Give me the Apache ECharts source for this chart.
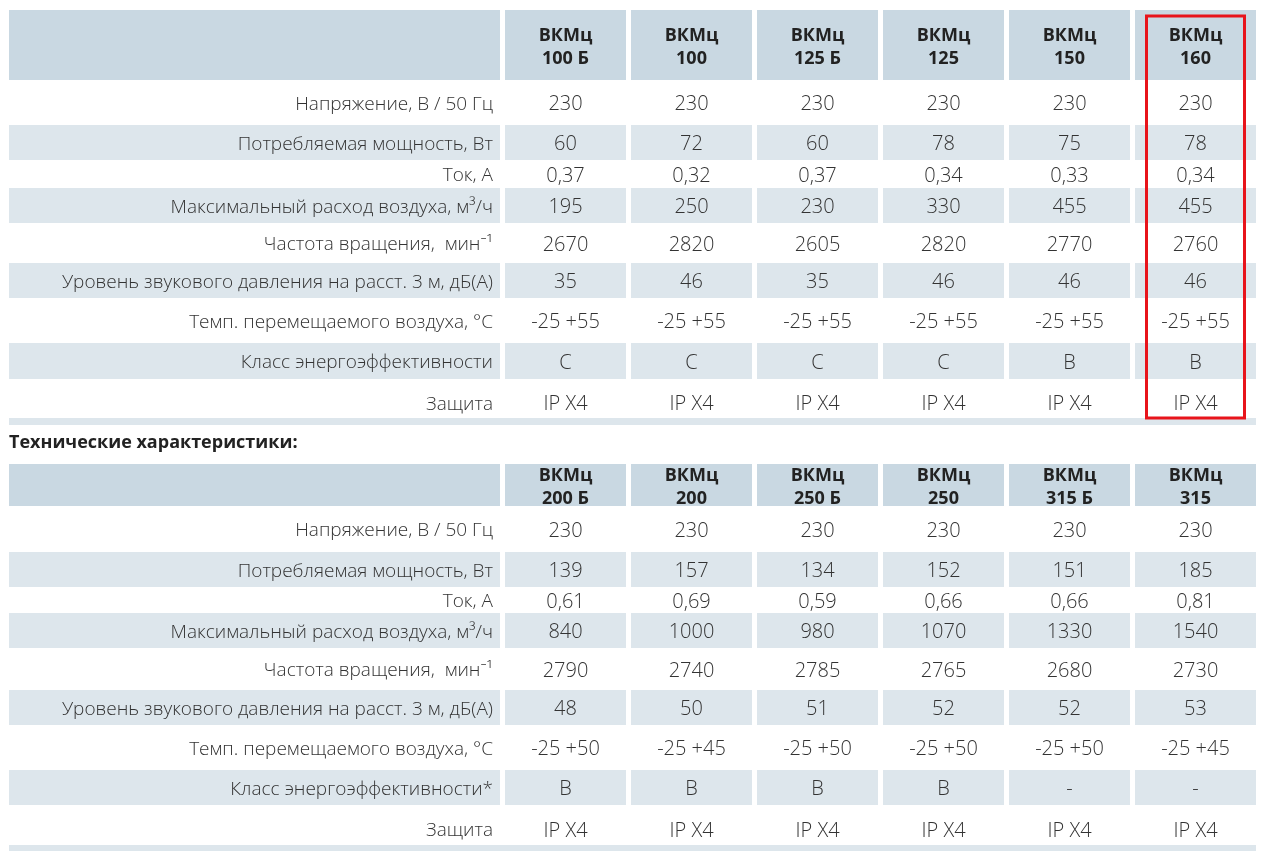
<!DOCTYPE html>
<html><head><meta charset="utf-8">
<script src="https://cdn.jsdelivr.net/npm/echarts@6/dist/echarts.min.js"></script>
<style>html,body{margin:0;padding:0;background:#fff}#c{width:1275px;height:859px}</style>
</head><body><div id="c"></div><script>
// ---------- DATA ----------
const models1 = ['ВКМц\n100 Б', 'ВКМц\n100', 'ВКМц\n125 Б', 'ВКМц\n125', 'ВКМц\n150', 'ВКМц\n160'];
const models2 = ['ВКМц\n200 Б', 'ВКМц\n200', 'ВКМц\n250 Б', 'ВКМц\n250', 'ВКМц\n315 Б', 'ВКМц\n315'];
const rowLabels1 = ['Напряжение, В / 50 Гц', 'Потребляемая мощность, Вт', 'Ток, А',
  'Максимальный расход воздуха, м³/ч', 'Частота вращения,  мин⁻¹',
  'Уровень звукового давления на расст. 3 м, дБ(А)', 'Темп. перемещаемого воздуха, °C',
  'Класс энергоэффективности', 'Защита'];
const rowLabels2 = ['Напряжение, В / 50 Гц', 'Потребляемая мощность, Вт', 'Ток, А',
  'Максимальный расход воздуха, м³/ч', 'Частота вращения,  мин⁻¹',
  'Уровень звукового давления на расст. 3 м, дБ(А)', 'Темп. перемещаемого воздуха, °C',
  'Класс энергоэффективности*', 'Защита'];
const voltage1 = ['230', '230', '230', '230', '230', '230'];
const power1 = ['60', '72', '60', '78', '75', '78'];
const current1 = ['0,37', '0,32', '0,37', '0,34', '0,33', '0,34'];
const airflow1 = ['195', '250', '230', '330', '455', '455'];
const rpm1 = ['2670', '2820', '2605', '2820', '2770', '2760'];
const noise1 = ['35', '46', '35', '46', '46', '46'];
const temp1 = ['-25 +55', '-25 +55', '-25 +55', '-25 +55', '-25 +55', '-25 +55'];
const energy1 = ['C', 'C', 'C', 'C', 'B', 'B'];
const protection1 = ['IP X4', 'IP X4', 'IP X4', 'IP X4', 'IP X4', 'IP X4'];
const voltage2 = ['230', '230', '230', '230', '230', '230'];
const power2 = ['139', '157', '134', '152', '151', '185'];
const current2 = ['0,61', '0,69', '0,59', '0,66', '0,66', '0,81'];
const airflow2 = ['840', '1000', '980', '1070', '1330', '1540'];
const rpm2 = ['2790', '2740', '2785', '2765', '2680', '2730'];
const noise2 = ['48', '50', '51', '52', '52', '53'];
const temp2 = ['-25 +50', '-25 +45', '-25 +50', '-25 +50', '-25 +50', '-25 +45'];
const energy2 = ['B', 'B', 'B', 'B', '-', '-'];
const protection2 = ['IP X4', 'IP X4', 'IP X4', 'IP X4', 'IP X4', 'IP X4'];
const highlightModel1 = 'ВКМц\n160';
const sectionTitle = 'Технические характеристики:';

// ---------- LAYOUT / STYLE ----------
const L = {
  t1: { top: 10, header: 70, rows: [45, 35, 28, 35, 40, 35, 45, 36, 39], strip: 7 },
  t2: { top: 464, header: 42, rows: [46, 35, 26, 35, 42, 35, 45, 35, 40], strip: 6 },
  labelLeft: 9, labelWidth: 496, dataLeft: 505, dataWidth: 756, gap: 5,
  textShift: 2, lastRowShift: 4, headerShift: 2
};
const HEADER_BG = '#c9d8e2', ROW_BG = '#dde6ec', STRIP_BG = '#dde6ec';
const FONT = '"Open Sans", "Noto Sans", sans-serif';
const TXT = '#333333';

const option = { animation: false, backgroundColor: '#fff', grid: [], xAxis: [], yAxis: [], series: [],
  title: { text: sectionTitle, left: 9, top: 434, padding: 0,
    textStyle: { fontFamily: FONT, fontWeight: 'bold', fontSize: 18, color: '#222' } } };

function addTable(t, models, labels, rowsData, highlight) {
  const total = t.header + t.rows.reduce((a, b) => a + b, 0) + t.strip;
  const gLabel = option.grid.length, gData = gLabel + 1;
  option.grid.push({ left: L.labelLeft, width: L.labelWidth, top: t.top, height: total });
  option.grid.push({ left: L.dataLeft, width: L.dataWidth, top: t.top, height: total });
  option.xAxis.push({ type: 'category', gridIndex: gLabel, data: ['label'], show: false });
  option.xAxis.push({ type: 'category', gridIndex: gData, data: models, show: false });
  option.yAxis.push({ type: 'value', gridIndex: gLabel, min: 0, max: total, inverse: true, show: false });
  option.yAxis.push({ type: 'value', gridIndex: gData, min: 0, max: total, inverse: true, show: false });

  const spans = [{ y0: 0, y1: t.header, kind: 0, r: -1 }];
  let y = t.header;
  t.rows.forEach((h, r) => { spans.push({ y0: y, y1: y + h, kind: r % 2 === 1 ? 1 : 2, r }); y += h; });
  spans.push({ y0: y, y1: y + t.strip, kind: 3, r: -2 });
  const nRows = t.rows.length;

  const labelItems = spans.map(s => [0, s.y0, s.y1, s.kind, s.r]);
  const dataItems = [];
  spans.forEach(s => models.forEach((m, c) => dataItems.push([c, s.y0, s.y1, s.kind, s.r])));

  function render(isLabel) {
    return function (params, api) {
      const col = api.value(0), y0 = api.value(1), y1 = api.value(2), kind = api.value(3), r = api.value(4);
      const bw = api.size([1, 0])[0];
      const p0 = api.coord([col, y0]), p1 = api.coord([col, y1]);
      const x = p0[0] - bw / 2;
      const last = !isLabel && col === models.length - 1;
      const w = kind === 3 && !last ? bw : bw - L.gap;
      const children = [];
      const fill = kind === 0 ? HEADER_BG : kind === 1 ? ROW_BG : kind === 3 ? STRIP_BG : null;
      if (fill) children.push({ type: 'rect', shape: { x: x, y: p0[1], width: w, height: p1[1] - p0[1] }, style: { fill: fill } });
      let cy = (p0[1] + p1[1]) / 2 + L.textShift + (r === nRows - 1 ? L.lastRowShift : 0);
      if (isLabel && r >= 0) {
        children.push({ type: 'text', style: { text: labels[r], x: x + w - 7, y: cy, align: 'right', verticalAlign: 'middle',
          fill: TXT, fontFamily: FONT, fontWeight: 300, fontSize: 19 } });
      } else if (!isLabel && kind === 0) {
        children.push({ type: 'text', style: { text: models[col], x: x + w / 2, y: (p0[1] + p1[1]) / 2 + L.headerShift,
          align: 'center', verticalAlign: 'middle',
          fill: '#222', fontFamily: FONT, fontWeight: 'bold', fontSize: 18, lineHeight: 23 } });
      } else if (!isLabel && r >= 0) {
        children.push({ type: 'text', style: { text: rowsData[r][col], x: x + w / 2, y: cy, align: 'center', verticalAlign: 'middle',
          fill: TXT, fontFamily: FONT, fontWeight: 300, fontSize: 20 } });
      }
      return { type: 'group', children: children };
    };
  }
  option.series.push({ type: 'custom', xAxisIndex: gLabel, yAxisIndex: gLabel, data: labelItems, renderItem: render(true), silent: true });
  option.series.push({ type: 'custom', xAxisIndex: gData, yAxisIndex: gData, data: dataItems, renderItem: render(false), silent: true });

  if (highlight) {
    const hc = models.indexOf(highlight);
    const bodyEnd = total - t.strip;
    option.series.push({ type: 'custom', xAxisIndex: gData, yAxisIndex: gData, z: 10, silent: true,
      data: [[hc, 6, bodyEnd]],
      renderItem: function (params, api) {
        const p0 = api.coord([api.value(0), api.value(1)]), p1 = api.coord([api.value(0), api.value(2)]);
        const bw = api.size([1, 0])[0];
        const cx = p0[0] - L.gap / 2;
        const half = bw / 2 - 14;
        return { type: 'rect', shape: { x: cx - half, y: p0[1], width: half * 2, height: p1[1] - p0[1] },
          style: { fill: null, stroke: '#e8141b', lineWidth: 3 } };
      } });
  }
}

addTable(L.t1, models1, rowLabels1,
  [voltage1, power1, current1, airflow1, rpm1, noise1, temp1, energy1, protection1], highlightModel1);
addTable(L.t2, models2, rowLabels2,
  [voltage2, power2, current2, airflow2, rpm2, noise2, temp2, energy2, protection2], null);

const chart = echarts.init(document.getElementById('c'), null, { renderer: 'canvas' });
chart.setOption(option);
</script></body></html>
